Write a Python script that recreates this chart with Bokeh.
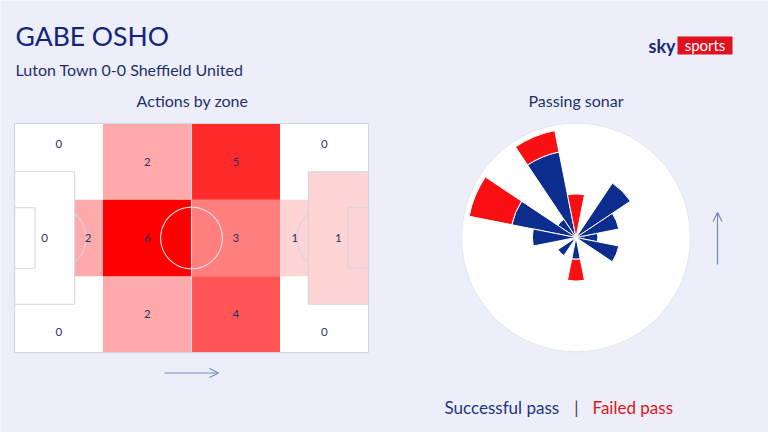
import numpy as np
from bokeh.plotting import figure
from bokeh.models import Range1d, Arrow, OpenHead, ColumnDataSource
from bokeh.core.properties import value
from bokeh.embed import file_html
from bokeh.resources import INLINE

# ---------------- data ----------------
player = "GABE OSHO"
match_line = "Luton Town 0-0 Sheffield United"
panel_titles = ["Actions by zone", "Passing sonar"]
legend_labels = ["Successful pass", "Failed pass"]

# action zones on an Opta pitch (x 0-100 towards attack, y 0-100)
zone_x0 = [0, 25, 50, 75, 0, 25, 50, 75, 17, 25, 50, 75, 0, 83]
zone_x1 = [25, 50, 75, 100, 25, 50, 75, 100, 25, 50, 75, 83, 17, 100]
zone_y0 = [66.7, 66.7, 66.7, 66.7, 0, 0, 0, 0, 33.3, 33.3, 33.3, 33.3, 21.1, 21.1]
zone_y1 = [100, 100, 100, 100, 33.3, 33.3, 33.3, 33.3, 66.7, 66.7, 66.7, 66.7, 78.9, 78.9]
zone_count = [0, 2, 5, 0, 0, 2, 4, 0, 2, 6, 3, 1, 0, 1]
label_x = [12.5, 37.5, 62.5, 87.5, 12.5, 37.5, 62.5, 87.5, 20.8, 37.5, 62.5, 79.2, 8.5, 91.5]
label_y = [91, 83.4, 83.4, 91, 9, 16.6, 16.6, 9, 50, 50, 50, 50, 50, 50]

# passing sonar: direction bins (deg, 0 = forward/right, anticlockwise)
sonar_angle = [0, 22.5, 45, 67.5, 90, 112.5, 135, 157.5, 180, 202.5, 225, 247.5, 270, 292.5, 315, 337.5]
sonar_success = [1, 2, 3, 0, 0, 4, 1, 3, 2, 0, 1, 0, 1, 0, 0, 2]
sonar_failed = [0, 0, 0, 0, 2, 1, 0, 2, 0, 0, 0, 0, 1, 0, 0, 0]

# ---------------- style ----------------
BG = "#ECEEFA"
NAVY = "#14247A"
TXT = "#24306C"
LINE = "#D2D5E3"
RED = "#FF0000"
BLUE = "#0C2C8E"
SRED = "#FA0F12"
ARROW = "#7A89B2"
FONT = "Lato"

W, H = 768, 432
p = figure(width=W, height=H, x_range=Range1d(0, W), y_range=Range1d(H, 0),
           output_backend="svg", toolbar_location=None, min_border=0,
           x_axis_location=None, y_axis_location=None,
           background_fill_color=BG, border_fill_color=BG, outline_line_color=None)
p.grid.visible = False

# pitch placement (screen px of the pitch frame)
PL, PR, PT, PB = 14, 368, 123, 352
sx = (PR - PL) / 100.0
sy = (PB - PT) / 100.0
p.extra_x_ranges["px"] = Range1d((0 - PL) / sx, (W - PL) / sx)
p.extra_y_ranges["py"] = Range1d((PB - H) / sy, (PB - 0) / sy)

# sonar placement
SCX, SCY, SU = 575.5, 237.0, 21.8
p.extra_x_ranges["sx"] = Range1d((0 - SCX) / SU, (W - SCX) / SU)
p.extra_y_ranges["sy"] = Range1d((SCY - H) / SU, (SCY - 0) / SU)

PK = dict(x_range_name="px", y_range_name="py")
SK = dict(x_range_name="sx", y_range_name="sy")

# ---- pitch ----
p.quad(left=0, right=100, bottom=0, top=100, fill_color="white", line_color=None, **PK)
zsrc = ColumnDataSource(dict(l=zone_x0, r=zone_x1, b=zone_y0, t=zone_y1,
                             a=[c / max(zone_count) for c in zone_count]))
p.quad(left="l", right="r", bottom="b", top="t", source=zsrc, fill_color=RED,
       fill_alpha="a", line_color=None, **PK)

lk = dict(line_color=LINE, line_width=1.1, **PK)
p.quad(left=0, right=100, bottom=0, top=100, fill_color=None, **lk)
p.segment(x0=50, y0=0, x1=50, y1=100, **lk)
p.quad(left=[0, 83], right=[17, 100], bottom=21.1, top=78.9, fill_color=None, **lk)
p.quad(left=[0, 94.2], right=[5.8, 100], bottom=36.8, top=63.2, fill_color=None, **lk)
rx, ry = 9.15 / 105 * 100, 9.15 / 68 * 100
t = np.linspace(0, 2 * np.pi, 200)
p.line(50 + rx * np.cos(t), 50 + ry * np.sin(t), line_color="#F0E4EA", line_width=1.1, **PK)
lim = np.arccos((17 - 11.5) / rx)
ta = np.linspace(-lim, lim, 60)
p.line(11.5 + rx * np.cos(ta), 50 + ry * np.sin(ta), line_color=LINE, line_width=1.1, **PK)
p.line(88.5 - rx * np.cos(ta), 50 + ry * np.sin(ta), line_color=LINE, line_width=1.1, **PK)

p.text(x=label_x, y=label_y, text=[str(c) for c in zone_count], text_align="center",
       text_baseline="middle", text_font=value(FONT), text_font_size="11.5px",
       text_color="#2A2F6E", **PK)

# ---- sonar ----
p.circle(x=[0], y=[0], radius=5.25, fill_color="white", line_color="#E2E5F2", line_width=1, **SK)
half = 11.25
ssrc = ColumnDataSource(dict(
    s=[a - half for a, v in zip(sonar_angle, sonar_success) if v > 0],
    e=[a + half for a, v in zip(sonar_angle, sonar_success) if v > 0],
    r=[v for v in sonar_success if v > 0]))
p.annular_wedge(x=0, y=0, inner_radius=0, outer_radius="r", start_angle="s", end_angle="e",
                start_angle_units="deg", end_angle_units="deg", source=ssrc,
                fill_color=BLUE, line_color="white", line_width=1, **SK)
fsrc = ColumnDataSource(dict(
    s=[a - half for a, f in zip(sonar_angle, sonar_failed) if f > 0],
    e=[a + half for a, f in zip(sonar_angle, sonar_failed) if f > 0],
    ri=[s for s, f in zip(sonar_success, sonar_failed) if f > 0],
    ro=[s + f for s, f in zip(sonar_success, sonar_failed) if f > 0]))
p.annular_wedge(x=0, y=0, inner_radius="ri", outer_radius="ro", start_angle="s", end_angle="e",
                start_angle_units="deg", end_angle_units="deg", source=fsrc,
                fill_color=SRED, line_color="white", line_width=1, **SK)

# ---- texts (middle baseline) ----
TK = dict(text_font=value(FONT), text_baseline="middle")
p.text(x=[15], y=[35], text=[player], text_font_size="26.5px", text_color=NAVY, **TK)
p.text(x=[15], y=[69], text=[match_line], text_font_size="16px", text_color=TXT, **TK)
p.text(x=[192, 575.5], y=[99.5, 99.5], text=panel_titles, text_font_size="16px",
       text_color=TXT, text_align="center", **TK)

# legend
p.text(x=[444], y=[406.5], text=[legend_labels[0]], text_font_size="17px",
       text_color="#1E3585", **TK)
p.text(x=[576], y=[406.5], text=["|"], text_font_size="17px", text_color="#3C4160",
       text_align="center", **TK)
p.text(x=[592], y=[406.5], text=[legend_labels[1]], text_font_size="17px",
       text_color="#E3141C", **TK)

# logo
p.quad(left=677, right=732, top=36, bottom=54, fill_color="#E1101E", line_color=None)
p.text(x=[675], y=[45], text=["sky"], text_font_size="18px", text_font_style="bold",
       text_color="#1B2A72", text_align="right", **TK)
p.text(x=[704.5], y=[44.5], text=["sports"], text_font_size="15px", text_color="white",
       text_align="center", **TK)

# arrows
p.add_layout(Arrow(end=OpenHead(size=9, line_color=ARROW, line_width=1.2),
                   x_start=164, y_start=372.5, x_end=218, y_end=372.5,
                   line_color=ARROW, line_width=1.2))
p.add_layout(Arrow(end=OpenHead(size=9, line_color=ARROW, line_width=1.2),
                   x_start=717, y_start=264, x_end=717, y_end=212,
                   line_color=ARROW, line_width=1.2))

open("out.html", "w").write(file_html(p, INLINE))
